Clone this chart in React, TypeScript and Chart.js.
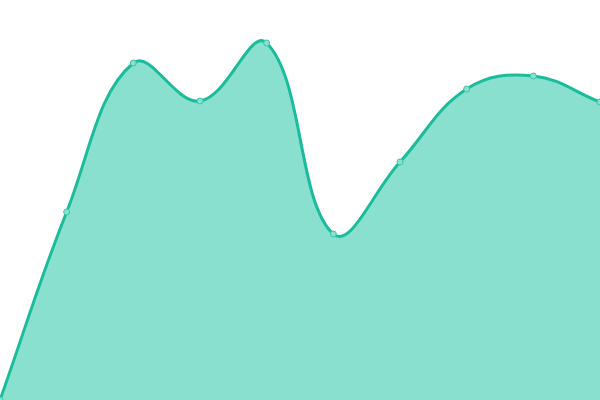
import { useEffect, useRef } from 'react';
import { Chart, registerables } from 'chart.js';

Chart.register(...registerables);

const labels = ['1', '2', '3', '4', '5', '6', '7', '8', '9', '10'];
const values = [0, 188, 337, 299, 357, 166, 238, 311, 324, 298];

export default function App() {
  const canvasRef = useRef<HTMLCanvasElement>(null);

  useEffect(() => {
    document.body.style.margin = '0';
    if (!canvasRef.current) return;
    const ctx = canvasRef.current.getContext('2d');
    if (!ctx) return;

    const chart = new Chart(ctx, {
      type: 'line',
      data: {
        labels,
        datasets: [{
          data: values,
          fill: true,
          backgroundColor: '#89e0ce',
          borderColor: '#1abc9c',
          borderWidth: 3,
          tension: 0.4,
          pointRadius: 3,
          pointBorderWidth: 1,
          pointBackgroundColor: '#8ae0cf',
          pointBorderColor: '#3cc5a8',
        }],
      },
      options: {
        animation: false,
        responsive: false,
        layout: { padding: 0, autoPadding: false },
        plugins: { legend: { display: false }, tooltip: { enabled: false } },
        scales: {
          x: { display: false },
          y: { display: false, min: 0, max: 400 },
        },
      },
    });

    return () => chart.destroy();
  }, []);

  return (
    <div style={{ width: 600, height: 400 }}>
      <canvas ref={canvasRef} width="600" height="400" />
    </div>
  );
}
